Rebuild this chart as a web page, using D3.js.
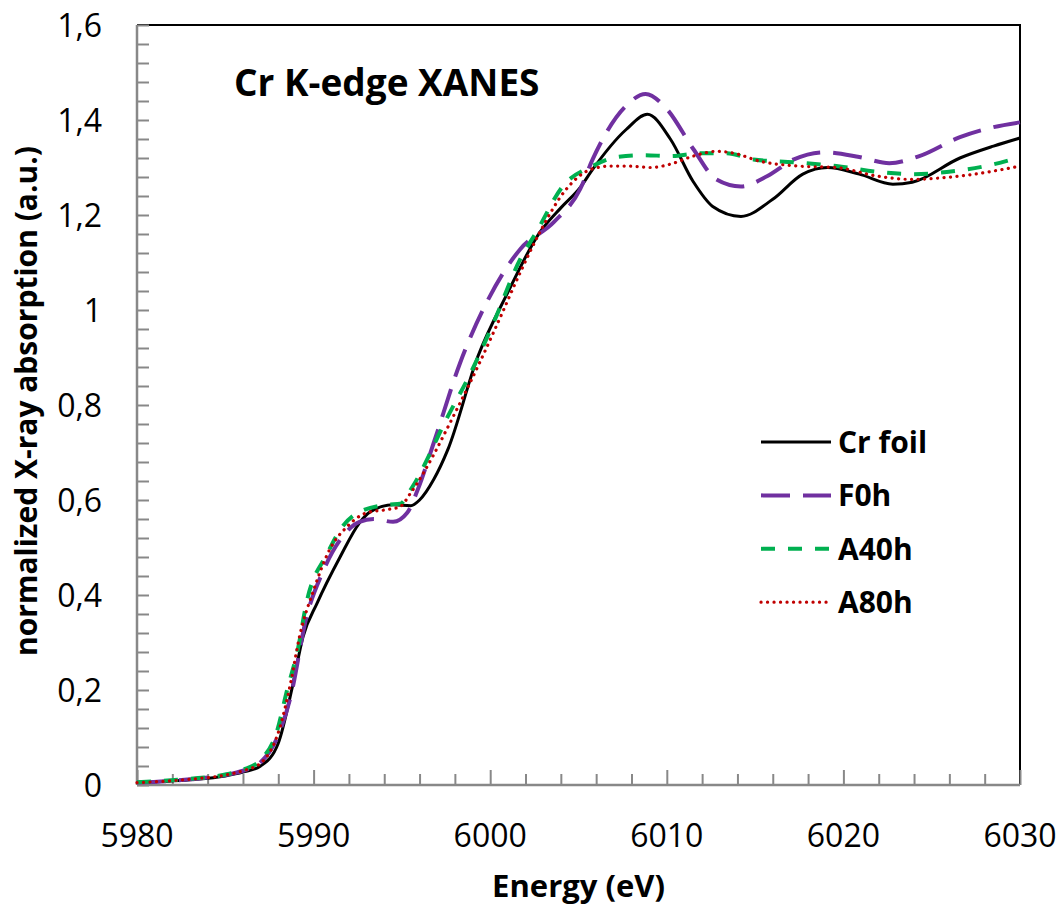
<!DOCTYPE html>
<html>
<head>
<meta charset="utf-8">
<script src="https://cdn.jsdelivr.net/npm/d3@7"></script>
<style>
  body { margin: 0; background: #fff; }
  #chart { width: 1062px; height: 906px; }
  text { font-family: "Open Sans", Lato, sans-serif; }
</style>
</head>
<body>
<div id="chart"></div>
<script>
// Cr K-edge XANES spectra
const crFoil = [
  [5980, 0.005], [5983, 0.011], [5985, 0.019], [5986, 0.027], [5987, 0.040],
  [5988, 0.088], [5988.8, 0.207], [5989.4, 0.312], [5990.2, 0.383], [5991.5, 0.48],
  [5992.6, 0.552], [5993.2, 0.575], [5994.5, 0.59], [5995.5, 0.588], [5996, 0.60],
  [5996.8, 0.643], [5997.6, 0.706], [5999.3, 0.902], [6001, 1.037], [6002.8, 1.163],
  [6004, 1.215], [6005.1, 1.258], [6005.8, 1.296], [6007.7, 1.38], [6008.9, 1.412],
  [6010.2, 1.36], [6011.5, 1.27], [6012.6, 1.218], [6014.2, 1.197], [6016, 1.233],
  [6017.7, 1.286], [6019.1, 1.30], [6020.9, 1.286], [6022.8, 1.265], [6023.9, 1.269],
  [6026.6, 1.32], [6028.5, 1.345], [6030, 1.362]
];
const f0h = [
  [5980, 0.005], [5983, 0.012], [5985, 0.021], [5986, 0.03], [5987, 0.048],
  [5988, 0.105], [5988.7, 0.186], [5989.6, 0.354], [5990.5, 0.447], [5991.5, 0.516],
  [5992.6, 0.554], [5993.4, 0.56], [5994.5, 0.554], [5995.3, 0.573], [5995.9, 0.622],
  [5996.8, 0.72], [5998.3, 0.889], [5999.8, 1.016], [6001.7, 1.128], [6003.6, 1.185],
  [6005.1, 1.255], [6005.8, 1.317], [6007.7, 1.43], [6008.8, 1.455], [6010, 1.423],
  [6011.5, 1.339], [6012.8, 1.275], [6014.2, 1.26], [6015.7, 1.282], [6017.2, 1.317],
  [6018.9, 1.332], [6020.9, 1.322], [6022.6, 1.309], [6024.3, 1.324], [6026.6, 1.364],
  [6028.5, 1.385], [6030, 1.395]
];
const a40h = [
  [5980, 0.006], [5983, 0.013], [5985, 0.022], [5986, 0.032], [5987, 0.053],
  [5987.9, 0.11], [5988.5, 0.2], [5989.1, 0.284], [5989.6, 0.384], [5990.8, 0.489],
  [5991.5, 0.537], [5992.6, 0.575], [5994.2, 0.59], [5994.9, 0.592], [5995.5, 0.622],
  [5997.6, 0.776], [5998.9, 0.868], [6000.2, 0.974], [6001.7, 1.107], [6002.6, 1.163],
  [6004.1, 1.26], [6005.8, 1.303], [6007.2, 1.322], [6008.7, 1.326], [6010.2, 1.324],
  [6011.9, 1.33], [6013.4, 1.33], [6014.9, 1.317], [6017.2, 1.311], [6019.6, 1.303],
  [6022.1, 1.29], [6023.9, 1.286], [6026.2, 1.292], [6028.3, 1.305], [6030, 1.322]
];
const a80h = [
  [5980, 0.005], [5983, 0.012], [5985, 0.021], [5986, 0.03], [5987, 0.046],
  [5988.1, 0.122], [5988.7, 0.215], [5989.2, 0.312], [5990, 0.41], [5990.9, 0.495],
  [5991.9, 0.544], [5993, 0.573], [5994.2, 0.58], [5994.9, 0.586], [5995.5, 0.615],
  [5998.1, 0.79], [5999.4, 0.889], [6000.6, 0.987], [6001.7, 1.079], [6002.8, 1.163],
  [6004.3, 1.254], [6005.7, 1.296], [6006.8, 1.303], [6007.7, 1.303], [6009.1, 1.30],
  [6010.2, 1.307], [6011.5, 1.324], [6012.8, 1.334], [6013.8, 1.33], [6015.3, 1.313],
  [6017.5, 1.303], [6019.6, 1.30], [6021.9, 1.282], [6023.8, 1.275], [6026.6, 1.282],
  [6030, 1.303]
];

const seriesNames = ["Cr foil", "F0h", "A40h", "A80h"];
const xTicks = [5980, 5990, 6000, 6010, 6020, 6030];
const yTicks = [0, 0.2, 0.4, 0.6, 0.8, 1, 1.2, 1.4, 1.6];

const series = [
  { name: seriesNames[0], data: crFoil, color: "#000000", width: 3, dash: null },
  { name: seriesNames[1], data: f0h, color: "#7030A0", width: 4, dash: "29,13" },
  { name: seriesNames[2], data: a40h, color: "#00B050", width: 4, dash: "14,13" },
  { name: seriesNames[3], data: a80h, color: "#C00000", width: 3.2, dash: "0.1,6.4", cap: "round" }
];

function drawChart() {
  const container = d3.select("#chart");
  container.selectAll("*").remove();

  const width = 1062;
  const height = 906;
  const margin = { top: 25, right: 42, bottom: 121, left: 137 };

  const svg = container.append("svg")
    .attr("width", width)
    .attr("height", height);

  const x = d3.scaleLinear()
    .domain([5980, 6030])
    .range([margin.left, width - margin.right]);

  const y = d3.scaleLinear()
    .domain([0, 1.6])
    .range([height - margin.bottom, margin.top]);

  const fmt = d => String(+d.toFixed(1)).replace(".", ",");

  // frame: top and right edges in black
  svg.append("path")
    .attr("d", `M${x(5980)},${y(1.6)}H${x(6030)}V${y(0)}`)
    .attr("fill", "none")
    .attr("stroke", "#000")
    .attr("stroke-width", 2);

  // y axis with inward minor ticks
  const yAxis = svg.append("g")
    .attr("transform", `translate(${margin.left},0)`);
  yAxis.call(d3.axisRight(y).tickValues(d3.range(0, 1.6001, 0.04)).tickSize(12).tickFormat(""));
  yAxis.select(".domain").remove();
  yAxis.selectAll(".tick line").attr("stroke", "#888").attr("stroke-width", 2);
  yAxis.append("line")
    .attr("y1", y(0)).attr("y2", y(1.6))
    .attr("stroke", "#888").attr("stroke-width", 2.5);

  svg.append("g")
    .selectAll("text")
    .data(yTicks)
    .join("text")
    .attr("x", 102)
    .attr("y", d => y(d) + 11.5)
    .attr("text-anchor", "end")
    .attr("font-size", 32)
    .text(fmt);

  // x axis with inward ticks every 2 eV, longer at 10 eV
  const xAxis = svg.append("g")
    .attr("transform", `translate(0,${height - margin.bottom})`);
  xAxis.call(d3.axisTop(x).tickValues(d3.range(5980, 6030.1, 2)).tickSize(11).tickFormat(""));
  xAxis.select(".domain").remove();
  xAxis.selectAll(".tick line")
    .attr("stroke", "#888").attr("stroke-width", 2)
    .attr("y2", d => (d % 10 === 0 ? -15 : -11));
  xAxis.append("line")
    .attr("x1", x(5980)).attr("x2", x(6030))
    .attr("stroke", "#888").attr("stroke-width", 2.5);

  svg.append("g")
    .selectAll("text")
    .data(xTicks)
    .join("text")
    .attr("x", d => x(d))
    .attr("y", 847)
    .attr("text-anchor", "middle")
    .attr("font-size", 32)
    .text(d => d);

  // axis titles
  svg.append("text")
    .attr("x", (x(5980) + x(6030)) / 2)
    .attr("y", 897)
    .attr("text-anchor", "middle")
    .attr("font-size", 31)
    .attr("font-weight", "bold")
    .text("Energy (eV)");

  svg.append("text")
    .attr("transform", `translate(37,401) rotate(-90)`)
    .attr("text-anchor", "middle")
    .attr("font-size", 30)
    .attr("font-weight", "bold")
    .text("normalized X-ray absorption (a.u.)");

  // title inside plot
  svg.append("text")
    .attr("x", 234)
    .attr("y", 96)
    .attr("font-size", 37)
    .attr("font-weight", "bold")
    .text("Cr K-edge XANES");

  // curves
  const line = d3.line()
    .x(d => x(d[0]))
    .y(d => y(d[1]))
    .curve(d3.curveMonotoneX);

  svg.append("g")
    .selectAll("path")
    .data(series)
    .join("path")
    .attr("fill", "none")
    .attr("stroke", d => d.color)
    .attr("stroke-width", d => d.width)
    .attr("stroke-dasharray", d => d.dash)
    .attr("stroke-linecap", d => d.cap || "butt")
    .attr("d", d => line(d.data));

  // legend
  const legend = svg.append("g")
    .attr("transform", "translate(761,442)");
  const rows = legend.selectAll("g")
    .data(series)
    .join("g")
    .attr("transform", (d, i) => `translate(0,${i * 53.4})`);
  rows.append("line")
    .attr("x1", 0).attr("x2", 70)
    .attr("stroke", d => d.color)
    .attr("stroke-width", d => d.width)
    .attr("stroke-dasharray", d => d.dash)
    .attr("stroke-linecap", d => d.cap || "butt");
  rows.append("text")
    .attr("x", 77)
    .attr("y", 11)
    .attr("font-size", 30)
    .attr("font-weight", "bold")
    .text(d => d.name);
}

drawChart();
</script>
</body>
</html>
